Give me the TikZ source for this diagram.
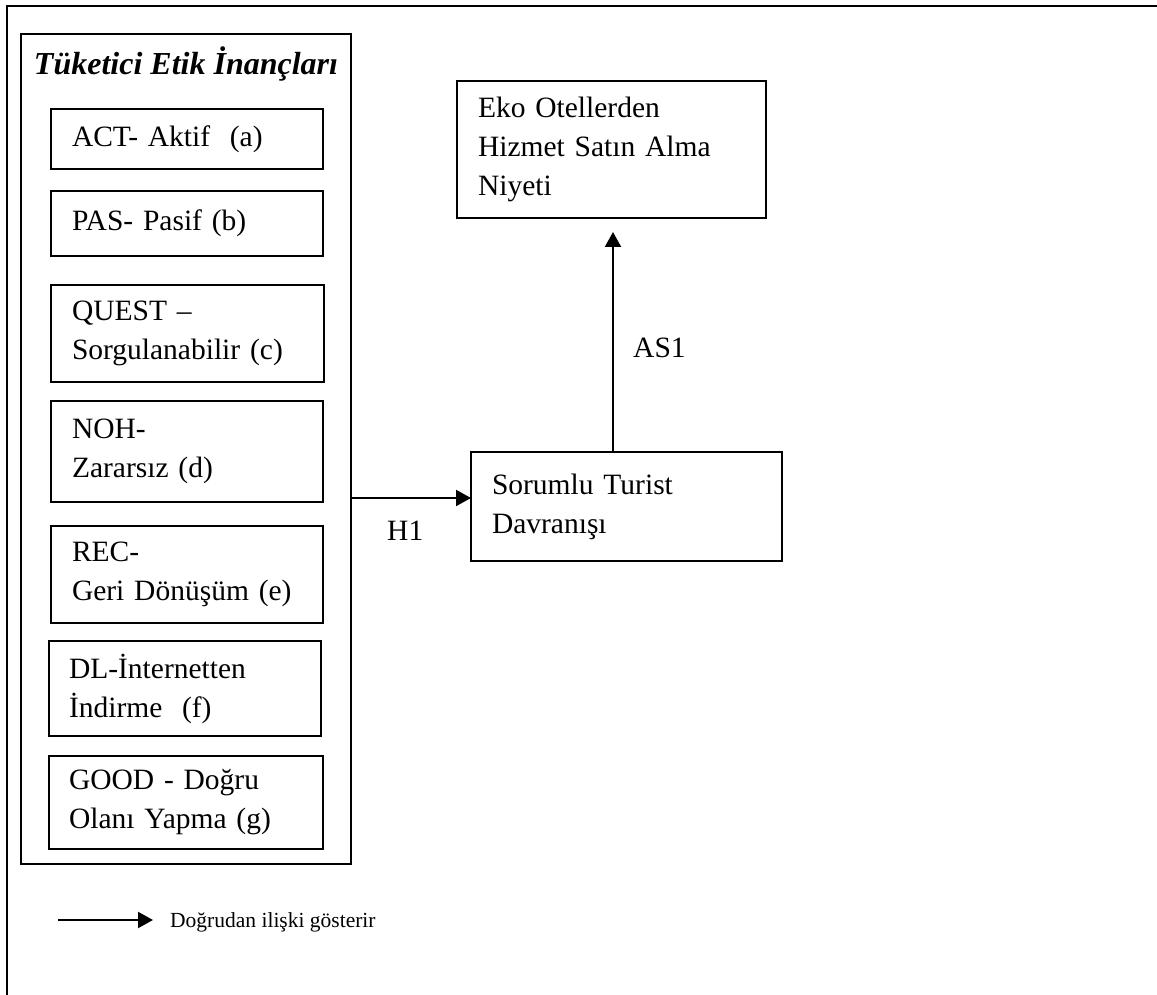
\documentclass[tikz,border=0pt]{standalone}
\usepackage{fontspec}
\setmainfont{Liberation Serif}
\usetikzlibrary{arrows.meta,calc}
\tikzset{
  box/.style={draw, line width=1.8pt, anchor=north west, align=left,
    inner xsep=21pt, inner ysep=0pt, outer sep=0pt,
    font=\fontsize{29.5}{39}\selectfont},
  frame/.style={draw, line width=1.8pt, anchor=north west, inner sep=0pt, outer sep=0pt},
  conn/.style={line width=2.2pt, -{Triangle[width=16pt,length=15pt]}},
  lbl/.style={anchor=base west, inner sep=0pt, font=\fontsize{29.5}{39}\selectfont},
}
\begin{document}
\begin{tikzpicture}[x=1pt,y=-1pt]
\useasboundingbox (0,0) rectangle (1157,995);
% outer frame (top and left edges)
\draw[line width=2.6pt] (1157,6) -- (7,6) -- (7,995);
% big group box
\node[frame, minimum width=330pt, minimum height=830pt] (big) at (21,34) {};
\node[anchor=base, inner sep=0pt, font=\fontsize{32}{39}\selectfont\bfseries\itshape] (title) at (186,75) {Tüketici Etik İnançları};
% inner boxes
\node[box, text width=230pt, minimum height=60pt] (act) at (51,109) {ACT- Aktif~~(a)};
\node[box, text width=230pt, minimum height=65pt] (pas) at (51,191) {PAS- Pasif (b)};
\node[box, text width=231pt, minimum height=97pt] (quest) at (51,285) {QUEST –\\Sorgulanabilir (c)};
\node[box, text width=230pt, minimum height=101pt] (noh) at (51,401) {NOH-\\Zararsız (d)};
\node[box, text width=230pt, minimum height=97pt] (rec) at (51,526) {REC-\\Geri Dönüşüm (e)};
\node[box, text width=232pt, minimum height=95pt, inner xsep=20pt] (dl) at (49,641) {DL-İnternetten\\İndirme~~(f)};
\node[box, text width=234pt, minimum height=93pt, inner xsep=20pt] (good) at (49,756) {GOOD - Doğru\\Olanı Yapma (g)};
% right side boxes
\node[box, text width=267pt, minimum height=137pt] (eko) at (457,81) {Eko Otellerden\\Hizmet Satın Alma\\Niyeti};
\node[box, text width=269pt, minimum height=109pt] (sor) at (471,452) {Sorumlu Turist\\Davranışı};
% connectors
\coordinate (hy) at (0,498);
\draw[conn] (big.east |- hy) -- (sor.west |- hy);
\node[lbl] (h1) at (387,540) {H1};
\coordinate (ax) at (613,0);
\draw[conn] (sor.north -| ax) -- ([yshift=-14pt]eko.south -| ax);
\node[lbl] (as1) at (633,357) {AS1};
% legend
\coordinate (leg1) at (58,920);
\coordinate (leg2) at (153,920);
\draw[conn] (leg1) -- (leg2);
\node[anchor=base west, inner sep=0pt, font=\fontsize{21.5}{26}\selectfont] (legtext) at (170,927) {Doğrudan ilişki gösterir};
\end{tikzpicture}
\end{document}
